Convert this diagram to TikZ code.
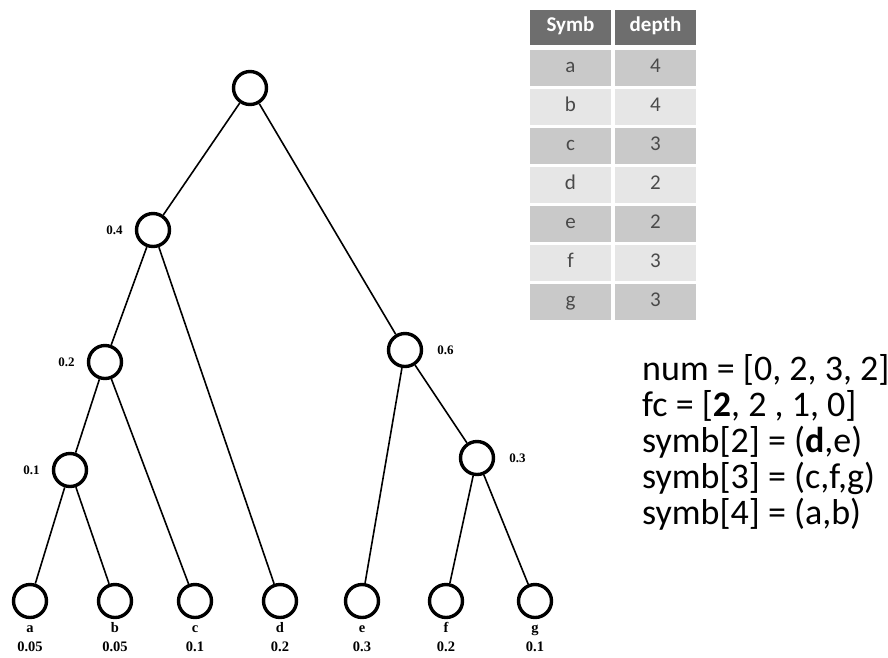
\documentclass[tikz,border=0pt]{standalone}
\usetikzlibrary{positioning}
\usepackage{fontspec}
\setmainfont{Liberation Serif}
\newfontfamily\calib{Carlito}
\definecolor{hdr}{HTML}{6E6E6E}
\definecolor{rowA}{HTML}{C9C9C9}
\definecolor{rowB}{HTML}{E6E6E6}
\definecolor{celltxt}{HTML}{4A4A4A}
\begin{document}
\begin{tikzpicture}[x=1pt,y=-1pt,
  tnode/.style={circle,draw,line width=3.4pt,minimum size=33pt,inner sep=0pt},
  edge/.style={line width=1.6pt},
  wlabel/.style={font=\fontsize{13}{14}\selectfont\bfseries,inner sep=0pt},
  leaflab/.style={font=\fontsize{14.5}{15}\selectfont\bfseries,anchor=base,inner sep=0pt},
  tcell/.style={minimum width=81pt,inner sep=0pt,text height=11pt,text depth=3pt,font=\calib\fontsize{21}{23}\selectfont},
  hcell/.style={tcell,fill=hdr,text=white,font=\calib\bfseries\fontsize{21}{23}\selectfont,minimum height=35pt},
  cellA/.style={tcell,fill=rowA,text=celltxt,minimum height=36pt},
  cellB/.style={tcell,fill=rowB,text=celltxt,minimum height=36pt},
  code/.style={font=\calib\fontsize{36}{40}\selectfont,anchor=west,inner sep=0pt}
]
\useasboundingbox (0,0) rectangle (888,657);

% internal nodes
\node[tnode] (root) at (250,88) {};
\node[tnode] (n4) at (153,230) {};
\node[tnode] (n2) at (105,362) {};
\node[tnode] (n1) at (70,470) {};
\node[tnode] (n6) at (405,350) {};
\node[tnode] (n3) at (477,458) {};

% leaves
\node[tnode] (a) at (30,601) {};
\node[tnode] (b) at (115,601) {};
\node[tnode] (c) at (195,601) {};
\node[tnode] (d) at (280,601) {};
\node[tnode] (e) at (362,601) {};
\node[tnode] (f) at (446,601) {};
\node[tnode] (g) at (535,601) {};

% edges
\draw[edge] (root) -- (n4);
\draw[edge] (root) -- (n6);
\draw[edge] (n4) -- (n2);
\draw[edge] (n4) -- (d);
\draw[edge] (n2) -- (n1);
\draw[edge] (n2) -- (c);
\draw[edge] (n1) -- (a);
\draw[edge] (n1) -- (b);
\draw[edge] (n6) -- (e);
\draw[edge] (n6) -- (n3);
\draw[edge] (n3) -- (f);
\draw[edge] (n3) -- (g);

% weights of inner nodes
\node[wlabel,left=12pt of n4] (w4) {0.4};
\node[wlabel,left=12pt of n2] (w2) {0.2};
\node[wlabel,left=12pt of n1] (w1) {0.1};
\node[wlabel,right=14pt of n6] (w6) {0.6};
\node[wlabel,right=14pt of n3] (w3) {0.3};

% leaf symbols and probabilities
\foreach \nm/\s/\p/\x in {a/a/0.05/30,b/b/0.05/115,c/c/0.1/195,d/d/0.2/280,e/e/0.3/362,f/f/0.2/446,g/g/0.1/535}{
  \node[leaflab] (s\nm) at (\x,632) {\s};
  \node[leaflab] (p\nm) at (\x,651) {\p};
}

% depth table
\node[hcell] (h1) at (570.5,27.5) {Symb};
\node[hcell] (h2) at (655.5,27.5) {depth};
\foreach \s/\dd/\k [count=\i] in {a/4/A,b/4/B,c/3/A,d/2/B,e/2/A,f/3/B,g/3/A}{
  \node[cell\k] (s\i) at (570.5,{29+39*\i}) {\s};
  \node[cell\k] (t\i) at (655.5,{29+39*\i}) {\dd};
}

% code arrays
\node[code] (l1) at (642,370) {num = [0, 2, 3, 2]};
\node[code] (l2) at (642,406) {fc = [\textbf{2}, 2 , 1, 0]};
\node[code] (l3) at (642,442) {symb[2] = (\textbf{d},e)};
\node[code] (l4) at (642,478) {symb[3] = (c,f,g)};
\node[code] (l5) at (642,514) {symb[4] = (a,b)};
\end{tikzpicture}
\end{document}
